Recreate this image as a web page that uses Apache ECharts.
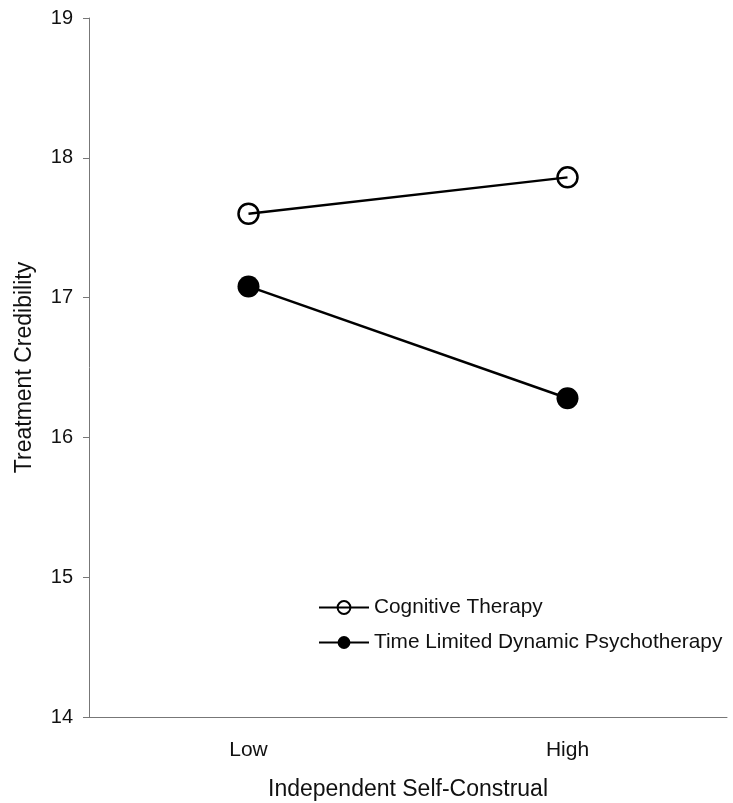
<!DOCTYPE html>
<html>
<head>
<meta charset="utf-8">
<script src="https://cdn.jsdelivr.net/npm/echarts@6/dist/echarts.min.js"></script>
<style>
  html, body { margin: 0; padding: 0; background: #fff; }
  #chart { width: 733px; height: 803px; }
</style>
</head>
<body>
<div id="chart"></div>
<script>
var categories = ['Low', 'High'];
var cognitive = [17.6, 17.86];
var tldp = [17.08, 16.28];
var seriesNames = ['Cognitive Therapy', 'Time Limited Dynamic Psychotherapy'];

var chart = echarts.init(document.getElementById('chart'));
var font = 'Liberation Sans, Arial, sans-serif';

var option = {
    backgroundColor: '#fff',
    animation: false,
    textStyle: { fontFamily: font },
    grid: { left: 89, top: 18, width: 638, height: 699, containLabel: false, outerBoundsMode: 'none' },
    legend: {
        orient: 'vertical',
        left: 313,
        top: 592,
        itemWidth: 50,
        itemHeight: 16,
        itemGap: 14,
        textStyle: { fontSize: 20.8, color: '#111', fontFamily: font },
        data: seriesNames
    },
    xAxis: {
        type: 'category',
        data: categories,
        boundaryGap: true,
        axisLine: { lineStyle: { color: '#777', width: 1 } },
        axisTick: { show: false },
        axisLabel: { fontSize: 21, color: '#111', margin: 23 },
        name: 'Independent Self-Construal',
        nameLocation: 'middle',
        nameGap: 61,
        nameTextStyle: { fontSize: 23, color: '#111' }
    },
    yAxis: {
        type: 'value',
        min: 14,
        max: 19,
        interval: 1,
        splitLine: { show: false },
        axisLine: { show: true, lineStyle: { color: '#777', width: 1 } },
        axisTick: { show: true, length: 6, lineStyle: { color: '#777' } },
        axisLabel: { fontSize: 20, color: '#111', margin: 16 },
        name: 'Treatment Credibility',
        nameLocation: 'middle',
        nameGap: 53,
        nameTextStyle: { fontSize: 23, color: '#111' }
    },
    series: [
        {
            name: seriesNames[0],
            type: 'line',
            data: cognitive,
            symbol: 'circle',
            symbolSize: 20,
            lineStyle: { color: '#000', width: 2.5 },
            itemStyle: { color: 'transparent', borderColor: '#000', borderWidth: 2.5 },
            z: 3
        },
        {
            name: seriesNames[1],
            type: 'line',
            data: tldp,
            symbol: 'circle',
            symbolSize: 22,
            lineStyle: { color: '#000', width: 2.5 },
            itemStyle: { color: '#000', borderColor: '#000', borderWidth: 0 },
            z: 3
        }
    ]
};

chart.setOption(option);
</script>
</body>
</html>
